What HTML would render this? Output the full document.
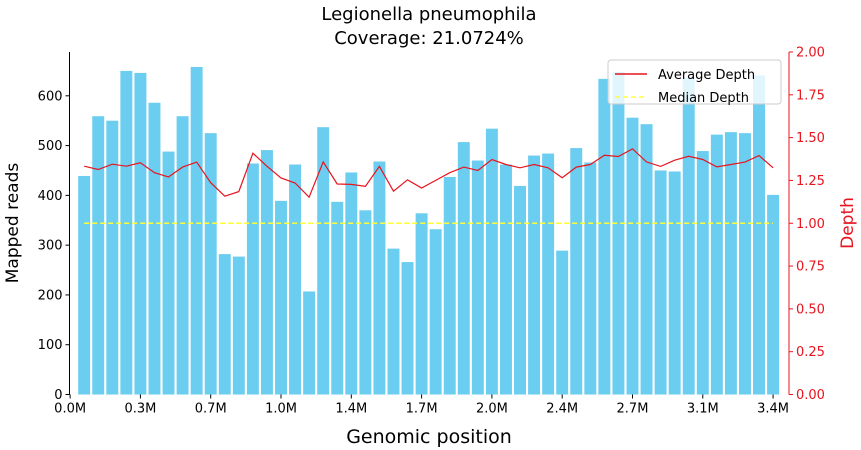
<!DOCTYPE html>
<html><head><meta charset="utf-8"><style>
html,body{margin:0;padding:0;background:#fff;}
svg{display:block;font-family:"DejaVu Sans","Liberation Sans",sans-serif;}
</style></head><body>
<svg id="chart" width="861" height="450" viewBox="0 0 861 450">
<text x="429" y="20" font-size="18" text-anchor="middle">Legionella pneumophila</text>
<text x="429" y="44" font-size="18" text-anchor="middle">Coverage: 21.0724%</text>
<g id="bars"></g>
<g id="lines"></g>
<g id="axes"></g>
<text x="0" y="0" font-size="17" text-anchor="middle" transform="translate(18,223) rotate(-90)">Mapped reads</text>
<text x="0" y="0" font-size="17" text-anchor="middle" fill="#e8141e" transform="translate(853,223) rotate(-90)">Depth</text>
<text x="429" y="443" font-size="19" text-anchor="middle">Genomic position</text>
<g>
<rect x="608" y="60" width="173" height="44" rx="3" fill="#fff" fill-opacity="0.8" stroke="#ccc"/>
<line x1="615" y1="74" x2="647" y2="74" stroke="#e8141e" stroke-width="1.5"/>
<text x="658" y="79" font-size="13">Average Depth</text>
<line x1="615" y1="97" x2="647" y2="97" stroke="#ffff33" stroke-width="1.5" stroke-dasharray="5,3"/>
<text x="658" y="102" font-size="13">Median Depth</text>
</g>
</svg>
<script>
const reads = [439,559,550,650,646,586,488,559,658,525,282,277,464,491,389,462,207,537,387,446,370,468,293,266,364,332,437,507,470,534,462,419,480,484,289,495,466,634,648,556,543,450,448,636,489,522,527,525,641,401];
const depth = [1.333,1.314,1.345,1.333,1.353,1.295,1.27,1.328,1.357,1.237,1.158,1.185,1.409,1.333,1.264,1.235,1.152,1.358,1.229,1.227,1.216,1.332,1.187,1.254,1.206,1.25,1.295,1.328,1.308,1.372,1.343,1.324,1.343,1.324,1.266,1.328,1.343,1.397,1.39,1.435,1.358,1.332,1.368,1.391,1.372,1.329,1.343,1.357,1.395,1.324];
const medianDepth = [1.0];
const binSizeM = [0.068];
const xTickVals = [0,0.34,0.68,1.02,1.36,1.70,2.04,2.38,2.72,3.06,3.40];
const xTickLabels = ["0.0M","0.3M","0.7M","1.0M","1.4M","1.7M","2.0M","2.4M","2.7M","3.1M","3.4M"];
const yTicks = [0,100,200,300,400,500,600];
const y2Ticks = [0,0.25,0.5,0.75,1.0,1.25,1.5,1.75,2.0];

const NS="http://www.w3.org/2000/svg";
const L=69.5,R=789,T=52,B=394.5;
const xMin=-0.003,xMax=3.477,yMax=688,y2Max=2.0;
const xs=v=>L+(v-xMin)/(xMax-xMin)*(R-L);
const ys=v=>B-v/yMax*(B-T);
const y2s=v=>B-v/y2Max*(B-T);
function mk(tag,attrs,parent){const e=document.createElementNS(NS,tag);for(const k in attrs)e.setAttribute(k,attrs[k]);parent.appendChild(e);return e;}
const gb=document.getElementById('bars'),gl=document.getElementById('lines'),ga=document.getElementById('axes');
const bw=(xs(binSizeM[0])-xs(0))*0.85;
reads.forEach((v,i)=>{
  const cx=xs((i+1)*binSizeM[0]);
  const r=mk('rect',{x:cx-bw/2,y:ys(v),width:bw,height:B-ys(v),fill:'#6bcdef'},gb);
  
  
});
const x0=xs(binSizeM[0]),x1=xs(reads.length*binSizeM[0]);
const med=mk('line',{x1:x0,x2:x1,y1:y2s(medianDepth[0]),y2:y2s(medianDepth[0]),stroke:'#ffff33','stroke-width':1.5,'stroke-dasharray':'5,3'},gl);


const pts=depth.map((d,i)=>xs((i+1)*binSizeM[0]).toFixed(1)+','+y2s(d).toFixed(1)).join(' ');
const avg=mk('polyline',{points:pts,fill:'none',stroke:'#e8141e','stroke-width':1.2},gl);


const ls=mk('line',{x1:L,x2:L,y1:T,y2:B,stroke:'#000','stroke-width':1},ga);


const rs=mk('line',{x1:R,x2:R,y1:T,y2:B,stroke:'#e8141e','stroke-width':1},ga);


yTicks.forEach(v=>{
  const y=ys(v);
  mk('line',{x1:L-4,x2:L,y1:y,y2:y,stroke:'#000'},ga);
  const t=mk('text',{x:L-7,y:y+4.5,'font-size':13,'text-anchor':'end'},ga);
  t.textContent=v;
  
  
});
y2Ticks.forEach(v=>{
  const y=y2s(v);
  mk('line',{x1:R,x2:R+4,y1:y,y2:y,stroke:'#e8141e'},ga);
  const t=mk('text',{x:R+7,y:y+4.5,'font-size':13,fill:'#e8141e'},ga);
  t.textContent=v.toFixed(2);
  
  
});
xTickVals.forEach((v,i)=>{
  const x=xs(v);
  mk('line',{x1:x,x2:x,y1:B,y2:B+4,stroke:'#000'},ga);
  const t=mk('text',{x:x,y:B+18,'font-size':13,'text-anchor':'middle'},ga);
  t.textContent=xTickLabels[i];
  
  
});
</script>
</body></html>
